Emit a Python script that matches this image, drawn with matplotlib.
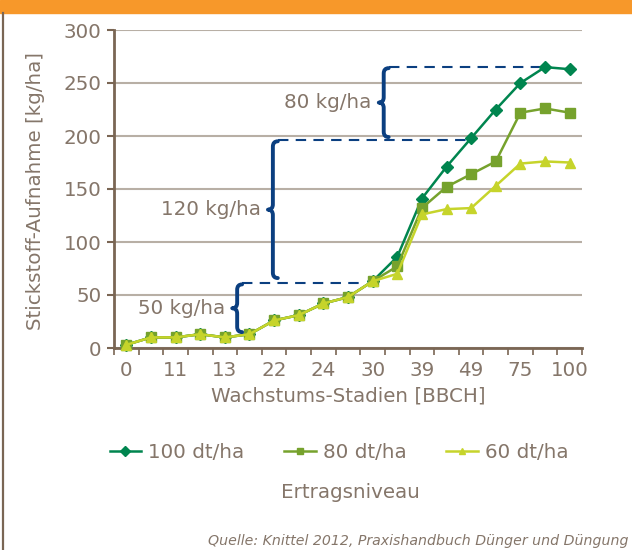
import matplotlib
matplotlib.use("Agg")
import matplotlib.pyplot as plt
from matplotlib.path import Path
from matplotlib.patches import PathPatch, Rectangle
from matplotlib.lines import Line2D

# data
stages = ["0", "", "11", "", "13", "", "22", "", "24", "", "30", "", "39", "", "49", "", "75", "", "100"]
n100 = [3, 10, 10, 13, 10, 13, 26, 31, 42, 48, 63, 86, 141, 171, 198, 225, 250, 265, 263]
n80 = [3, 10, 10, 13, 10, 13, 26, 31, 42, 48, 63, 77, 132, 152, 164, 176, 222, 226, 222]
n60 = [3, 10, 10, 13, 10, 13, 26, 31, 42, 48, 63, 70, 126, 131, 132, 153, 174, 176, 175]
series_names = ["100 dt/ha", "80 dt/ha", "60 dt/ha"]

# differences marked with braces
brace_x = [4.5, 5.95, 10.45]
brace_lo = [15, 66, 199]
brace_hi = [60, 195, 264]
brace_txt = ["50 kg/ha", "120 kg/ha", "80 kg/ha"]
dash_y = [61, 196, 265]
dash_end = [9.7, 13.8, 17.0]

TXT = "#85766a"
AX = "#7a6654"
GRID = "#b8afa5"
NAVY = "#0b3f80"
cols = ["#00854f", "#76a22d", "#c6d42b"]
marks = ["D", "s", "^"]
msize = [6.5, 6.5, 7.5]
FS = 14.3

plt.rcParams["font.family"] = ["DejaVu Sans"]

fig = plt.figure(figsize=(6.32, 5.5), dpi=100)
ax = fig.add_axes([114/632, 1-348/550, 468/632, 318/550])

# frame decoration: orange band and left rule
fig.patches.append(Rectangle((0, 1-13/550), 1, 13/550, transform=fig.transFigure,
                             color="#f7982a", zorder=0))
fig.add_artist(Line2D([3/632, 3/632], [0, 1-13/550], transform=fig.transFigure,
                      color=AX, lw=1.6))

x = list(range(len(stages)))
for k, (vals, c, m, ms, nm) in enumerate(zip([n100, n80, n60], cols, marks, msize, series_names)):
    ax.plot(x, vals, color=c, marker=m, ms=ms, mec=c, mfc=c, lw=1.8, label=nm,
            zorder=3 + k, clip_on=False)

def brace(ax, xc, y0, y1, w=0.2, h=5):
    ym = (y0 + y1) / 2
    verts = [(xc + w, y1), (xc, y1), (xc, y1 - h),
             (xc, ym + h),
             (xc, ym), (xc - w, ym),
             (xc, ym), (xc, ym - h),
             (xc, y0 + h),
             (xc, y0), (xc + w, y0)]
    codes = [Path.MOVETO, Path.CURVE3, Path.CURVE3,
             Path.LINETO,
             Path.CURVE3, Path.CURVE3,
             Path.CURVE3, Path.CURVE3,
             Path.LINETO,
             Path.CURVE3, Path.CURVE3]
    ax.add_patch(PathPatch(Path(verts, codes), fill=False, ec=NAVY, lw=2.8,
                           capstyle="round", joinstyle="round", zorder=7))

for bx, lo, hi, t in zip(brace_x, brace_lo, brace_hi, brace_txt):
    brace(ax, bx, lo, hi)
    ax.text(bx - 0.5, (lo + hi) / 2, t, ha="right", va="center", fontsize=FS, color=TXT)

for bx, yv, xe in zip(brace_x, dash_y, dash_end):
    ax.plot([bx + 0.2, xe], [yv, yv], color=NAVY, lw=1.5, dashes=(5, 3.5), zorder=2)

ax.set_xlim(-0.5, len(stages) - 0.5)
ax.set_ylim(0, 300)
ax.set_yticks(range(0, 301, 50))
ax.set_xticks(x[::2])
ax.set_xticklabels(stages[::2])
ax.set_xticks([i - 0.5 for i in range(len(stages) + 1)], minor=True)
ax.tick_params(axis="x", which="major", length=0, pad=9, labelsize=FS, labelcolor=TXT)
ax.tick_params(axis="x", which="minor", length=5, width=1.2, color=AX)
ax.tick_params(axis="y", length=5, width=1.5, color=AX, labelsize=FS, labelcolor=TXT, pad=4)
ax.yaxis.grid(True, color=GRID, lw=1.5)
ax.set_axisbelow(True)
for s in ["top", "right"]:
    ax.spines[s].set_visible(False)
for s in ["left", "bottom"]:
    ax.spines[s].set_color(AX)
    ax.spines[s].set_linewidth(2)

ax.set_xlabel("Wachstums-Stadien [BBCH]", fontsize=FS, color=TXT, labelpad=5)
fig.text(36/632, 1-191/550, "Stickstoff-Aufnahme [kg/ha]", rotation=90,
         ha="center", va="center", fontsize=FS, color=TXT)

leg = fig.legend(loc="center", bbox_to_anchor=(339/632, 1-452/550), ncol=3,
                 frameon=False, fontsize=FS, handlelength=1.6, handletextpad=0.35,
                 columnspacing=2.0, labelcolor=TXT)
for h in leg.legend_handles:
    h.set_markersize(5)
fig.text(350/632, 1-493/550, "Ertragsniveau", ha="center", va="center",
         fontsize=FS, color=TXT)
fig.text(628/632, 1-541/550, "Quelle: Knittel 2012, Praxishandbuch Dünger und Düngung",
         ha="right", va="center", fontsize=10.2, style="italic", color=TXT)

plt.savefig("out.png", dpi=100)
